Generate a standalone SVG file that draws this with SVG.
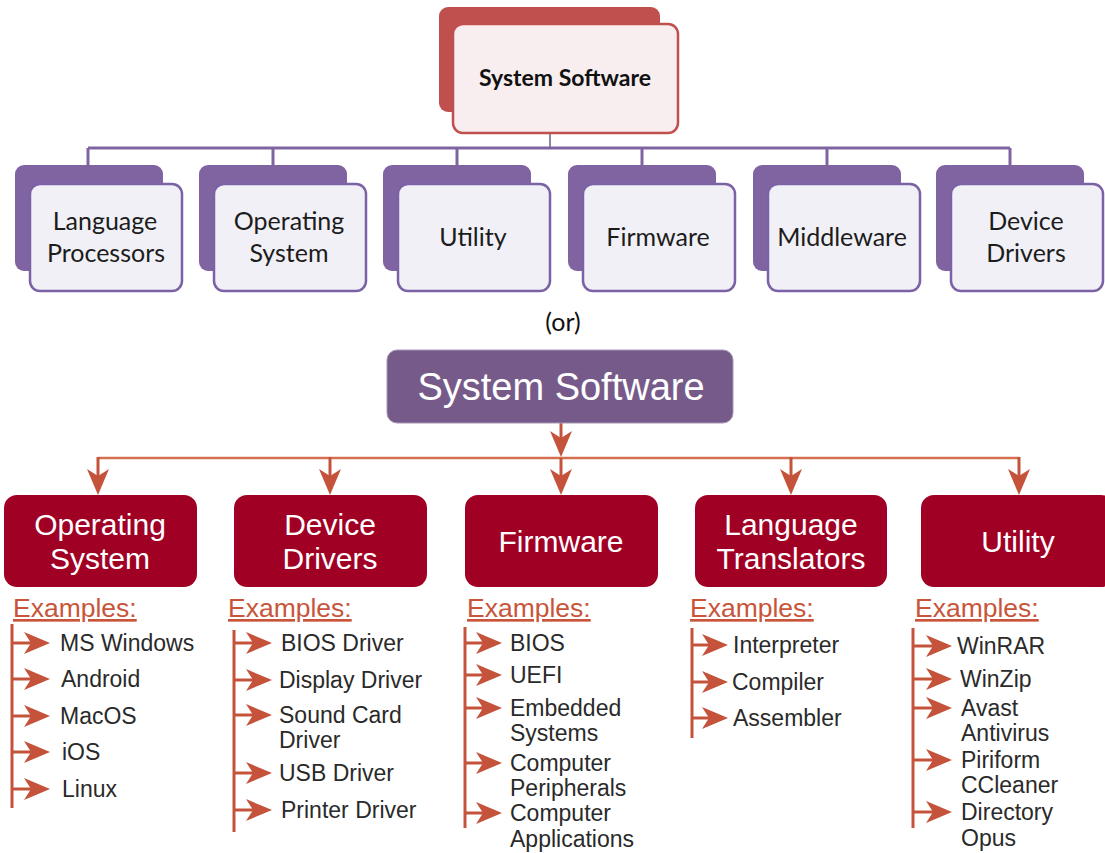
<svg xmlns="http://www.w3.org/2000/svg" width="1105" height="853" viewBox="0 0 1105 853">
  <defs>
    <style>
      .top-back { fill: #8064A2; }
      .top-front { fill: #F1F0F6; stroke: #7B62A6; stroke-width: 2.5; }
      .top-label { font-family: Lato, "Liberation Sans", sans-serif; font-size: 25px; fill: #1c1c1c; text-anchor: middle; }
      .purple-line { stroke: #8064A2; stroke-width: 3; fill: none; }
      .cat-box { fill: #A10025; }
      .cat-label { font-family: "Liberation Sans", Arial, sans-serif; font-size: 30px; fill: #ffffff; text-anchor: middle; }
      .examples { font-family: "Liberation Sans", Arial, sans-serif; font-size: 26.5px; fill: #C8553A; text-decoration: underline; }
      .item { font-family: "Liberation Sans", Arial, sans-serif; font-size: 23px; fill: #2a2a2a; }
      .branch { stroke: #C5523A; stroke-width: 3; fill: none; }
      .bus { stroke: #D4704F; stroke-width: 2.5; fill: none; }
      .arrow { stroke: #C5523A; stroke-width: 3; fill: none; marker-end: url(#head); }
    </style>
    <marker id="head" viewBox="0 0 26 22" refX="16" refY="11" markerWidth="26" markerHeight="22" markerUnits="userSpaceOnUse" orient="auto">
      <path d="M0,0 L26,11 L0,22 L7,11 Z" fill="#C5523A"/>
    </marker>
  </defs>

  <rect width="1105" height="853" fill="#ffffff"/>

  <!-- ===== Upper chart ===== -->
  <g id="connectors-top">
    <line x1="550" y1="133" x2="550" y2="148" stroke="#8C86A3" stroke-width="2"/>
    <line class="purple-line" x1="88" y1="148" x2="1010" y2="148"/>
    <line class="purple-line" x1="88" y1="148" x2="88" y2="166"/>
    <line class="purple-line" x1="273" y1="148" x2="273" y2="166"/>
    <line class="purple-line" x1="457" y1="148" x2="457" y2="166"/>
    <line class="purple-line" x1="642" y1="148" x2="642" y2="166"/>
    <line class="purple-line" x1="827" y1="148" x2="827" y2="166"/>
    <line class="purple-line" x1="1010" y1="148" x2="1010" y2="166"/>
  </g>

  <g id="top-root">
    <rect x="439" y="7" width="221" height="105" rx="9" fill="#C0504D"/>
    <rect x="453" y="24" width="225" height="109" rx="10" fill="#F8EDEF" stroke="#C0504D" stroke-width="2.5"/>
    <text x="565" y="86" font-family="Lato, 'Liberation Sans', sans-serif" font-size="23" font-weight="bold" fill="#111" text-anchor="middle">System Software</text>
  </g>

  <g id="top-language-processors">
    <rect class="top-back" x="15" y="165" width="148" height="106" rx="9"/>
    <rect class="top-front" x="30" y="184" width="152" height="107" rx="10"/>
    <text class="top-label" x="105" y="230">Language</text>
    <text class="top-label" x="106" y="262">Processors</text>
  </g>
  <g id="top-operating-system">
    <rect class="top-back" x="199" y="165" width="148" height="106" rx="9"/>
    <rect class="top-front" x="214" y="184" width="152" height="107" rx="10"/>
    <text class="top-label" x="289" y="230">Operating</text>
    <text class="top-label" x="289" y="262">System</text>
  </g>
  <g id="top-utility">
    <rect class="top-back" x="383" y="165" width="148" height="106" rx="9"/>
    <rect class="top-front" x="398" y="184" width="152" height="107" rx="10"/>
    <text class="top-label" x="473" y="246">Utility</text>
  </g>
  <g id="top-firmware">
    <rect class="top-back" x="568" y="165" width="148" height="106" rx="9"/>
    <rect class="top-front" x="583" y="184" width="152" height="107" rx="10"/>
    <text class="top-label" x="658" y="246">Firmware</text>
  </g>
  <g id="top-middleware">
    <rect class="top-back" x="753" y="165" width="148" height="106" rx="9"/>
    <rect class="top-front" x="768" y="184" width="152" height="107" rx="10"/>
    <text class="top-label" x="842" y="246">Middleware</text>
  </g>
  <g id="top-device-drivers">
    <rect class="top-back" x="936" y="165" width="148" height="106" rx="9"/>
    <rect class="top-front" x="951" y="184" width="152" height="107" rx="10"/>
    <text class="top-label" x="1026" y="230">Device</text>
    <text class="top-label" x="1026" y="262">Drivers</text>
  </g>

  <text x="563" y="331" font-family="Lato, 'Liberation Sans', sans-serif" font-size="25" fill="#111" text-anchor="middle">(or)</text>

  <!-- ===== Lower chart ===== -->
  <g id="connectors-bottom">
    <line class="bus" x1="98" y1="458" x2="1019" y2="458"/>
    <line class="arrow" x1="561" y1="423" x2="561" y2="447"/>
    <line class="arrow" x1="561" y1="458" x2="561" y2="485"/>
    <line class="arrow" x1="98" y1="457" x2="98" y2="485"/>
    <line class="arrow" x1="330" y1="457" x2="330" y2="485"/>
    <line class="arrow" x1="791" y1="457" x2="791" y2="485"/>
    <line class="arrow" x1="1019" y1="457" x2="1019" y2="485"/>
  </g>

  <g id="root">
    <rect x="387" y="350" width="346" height="73" rx="10" fill="#765B8A" stroke="#A796B6" stroke-width="1"/>
    <text x="561" y="400" font-family="'Liberation Sans', Arial, sans-serif" font-size="38" fill="#ffffff" text-anchor="middle">System Software</text>
  </g>

  <g id="operating-system">
    <rect class="cat-box" x="4" y="495" width="193" height="92" rx="13"/>
    <text class="cat-label" x="100" y="535">Operating</text>
    <text class="cat-label" x="100" y="569">System</text>
    <text class="examples" x="13" y="617">Examples:</text>
    <line class="branch" x1="12" y1="624" x2="12" y2="808"/>
    <line class="arrow" x1="12" y1="643" x2="40" y2="643"/>
    <line class="arrow" x1="12" y1="679" x2="40" y2="679"/>
    <line class="arrow" x1="12" y1="716" x2="40" y2="716"/>
    <line class="arrow" x1="12" y1="752" x2="40" y2="752"/>
    <line class="arrow" x1="12" y1="789" x2="40" y2="789"/>
    <text class="item" x="60" y="651">MS Windows</text>
    <text class="item" x="61" y="687">Android</text>
    <text class="item" x="60" y="724">MacOS</text>
    <text class="item" x="62" y="760">iOS</text>
    <text class="item" x="62" y="797">Linux</text>
  </g>

  <g id="device-drivers">
    <rect class="cat-box" x="234" y="495" width="193" height="92" rx="13"/>
    <text class="cat-label" x="330" y="535">Device</text>
    <text class="cat-label" x="330" y="569">Drivers</text>
    <text class="examples" x="228" y="617">Examples:</text>
    <line class="branch" x1="234" y1="630" x2="234" y2="832"/>
    <line class="arrow" x1="234" y1="643" x2="262" y2="643"/>
    <line class="arrow" x1="234" y1="680" x2="262" y2="680"/>
    <line class="arrow" x1="234" y1="715" x2="262" y2="715"/>
    <line class="arrow" x1="234" y1="773" x2="262" y2="773"/>
    <line class="arrow" x1="234" y1="810" x2="262" y2="810"/>
    <text class="item" x="281" y="651">BIOS Driver</text>
    <text class="item" x="279" y="688">Display Driver</text>
    <text class="item" x="279" y="723">Sound Card</text>
    <text class="item" x="279" y="748">Driver</text>
    <text class="item" x="279" y="781">USB Driver</text>
    <text class="item" x="281" y="818">Printer Driver</text>
  </g>

  <g id="firmware">
    <rect class="cat-box" x="465" y="495" width="193" height="92" rx="13"/>
    <text class="cat-label" x="561" y="552">Firmware</text>
    <text class="examples" x="467" y="617">Examples:</text>
    <line class="branch" x1="465" y1="627" x2="465" y2="828"/>
    <line class="arrow" x1="465" y1="643" x2="492" y2="643"/>
    <line class="arrow" x1="465" y1="675" x2="492" y2="675"/>
    <line class="arrow" x1="465" y1="708" x2="492" y2="708"/>
    <line class="arrow" x1="465" y1="763" x2="492" y2="763"/>
    <line class="arrow" x1="465" y1="813" x2="492" y2="813"/>
    <text class="item" x="510" y="651">BIOS</text>
    <text class="item" x="510" y="683">UEFI</text>
    <text class="item" x="510" y="716">Embedded</text>
    <text class="item" x="510" y="741">Systems</text>
    <text class="item" x="510" y="771">Computer</text>
    <text class="item" x="510" y="796">Peripherals</text>
    <text class="item" x="510" y="821">Computer</text>
    <text class="item" x="510" y="847">Applications</text>
  </g>

  <g id="language-translators">
    <rect class="cat-box" x="695" y="495" width="192" height="92" rx="13"/>
    <text class="cat-label" x="791" y="535">Language</text>
    <text class="cat-label" x="791" y="569">Translators</text>
    <text class="examples" x="690" y="617">Examples:</text>
    <line class="branch" x1="692" y1="628" x2="692" y2="738"/>
    <line class="arrow" x1="692" y1="645" x2="718" y2="645"/>
    <line class="arrow" x1="692" y1="682" x2="718" y2="682"/>
    <line class="arrow" x1="692" y1="718" x2="718" y2="718"/>
    <text class="item" x="733" y="653">Interpreter</text>
    <text class="item" x="732" y="690">Compiler</text>
    <text class="item" x="733" y="726">Assembler</text>
  </g>

  <g id="utility">
    <rect class="cat-box" x="921" y="495" width="193" height="92" rx="13"/>
    <text class="cat-label" x="1018" y="552">Utility</text>
    <text class="examples" x="915" y="617">Examples:</text>
    <line class="branch" x1="913" y1="628" x2="913" y2="828"/>
    <line class="arrow" x1="913" y1="646" x2="942" y2="646"/>
    <line class="arrow" x1="913" y1="679" x2="942" y2="679"/>
    <line class="arrow" x1="913" y1="708" x2="942" y2="708"/>
    <line class="arrow" x1="913" y1="760" x2="942" y2="760"/>
    <line class="arrow" x1="913" y1="812" x2="942" y2="812"/>
    <text class="item" x="957" y="654">WinRAR</text>
    <text class="item" x="960" y="687">WinZip</text>
    <text class="item" x="961" y="716">Avast</text>
    <text class="item" x="961" y="741">Antivirus</text>
    <text class="item" x="961" y="768">Piriform</text>
    <text class="item" x="961" y="793">CCleaner</text>
    <text class="item" x="961" y="820">Directory</text>
    <text class="item" x="961" y="846">Opus</text>
  </g>
</svg>
